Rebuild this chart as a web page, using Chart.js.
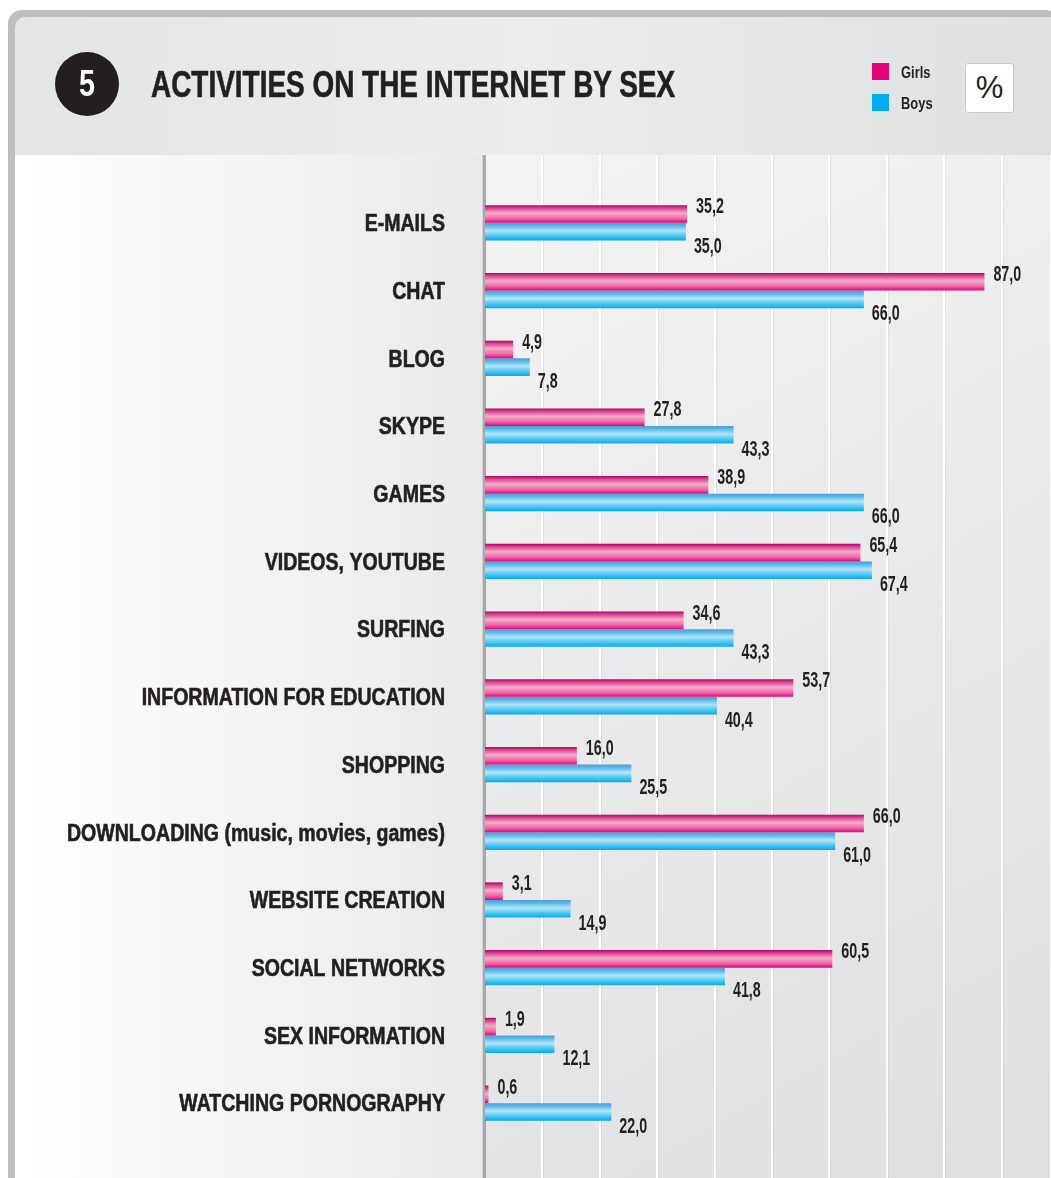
<!DOCTYPE html>
<html>
<head>
<meta charset="utf-8">
<script src="https://cdn.jsdelivr.net/npm/chart.js@4.4.1/dist/chart.umd.min.js"></script>
<style>
  html, body { margin: 0; padding: 0; background: #fff; overflow: hidden; }
  #wrap { position: relative; width: 1051px; height: 1178px; }
  #chart { position: absolute; left: 0; top: 0; }
  .txt { position: absolute; font-family: "Liberation Sans", Arial, sans-serif; color: #231f20; white-space: nowrap; transform-origin: left center; }
  #num { position: absolute; left: 55px; top: 52px; width: 64px; height: 64px; border-radius: 50%; background: #231f20; color: #fff;
         font: bold 36px "Liberation Sans", Arial, sans-serif; text-align: center; line-height: 64px; }
  #num span { display: inline-block; transform: scaleX(0.8); }
  #title { left: 151px; top: 64px; font-weight: bold; font-size: 36px; line-height: 42px; transform: scaleX(0.776); -webkit-text-stroke: 0.6px #231f20; }
  .sw { position: absolute; width: 17px; height: 17px; }
  .lg { font-weight: bold; font-size: 17px; line-height: 20px; transform: scaleX(0.76); }
  #pct { position: absolute; left: 965px; top: 63px; width: 47px; height: 48px; background: #fff; border: 1px solid #c9cacc; border-radius: 3px;
         font: 31px "Liberation Sans", Arial, sans-serif; color: #231f20; text-align: center; line-height: 48px; }
</style>
</head>
<body>
<div id="wrap">
  <canvas id="chart" width="1051" height="1178"></canvas>
  <div id="num"><span>5</span></div>
  <div id="title" class="txt">ACTIVITIES ON THE INTERNET BY SEX</div>
  <div class="sw" style="left:872px;top:63px;background:#e6007e"></div>
  <div class="txt lg" style="left:901px;top:63px">Girls</div>
  <div class="sw" style="left:872px;top:94px;background:#00aeef"></div>
  <div class="txt lg" style="left:901px;top:94px">Boys</div>
  <div id="pct">%</div>
</div>
<script>
// data
var activities = [
  'E-MAILS', 'CHAT', 'BLOG', 'SKYPE', 'GAMES', 'VIDEOS, YOUTUBE', 'SURFING',
  'INFORMATION FOR EDUCATION', 'SHOPPING', 'DOWNLOADING (music, movies, games)',
  'WEBSITE CREATION', 'SOCIAL NETWORKS', 'SEX INFORMATION', 'WATCHING PORNOGRAPHY'
];
var girls = [35.2, 87.0, 4.9, 27.8, 38.9, 65.4, 34.6, 53.7, 16.0, 66.0, 3.1, 60.5, 1.9, 0.6];
var boys  = [35.0, 66.0, 7.8, 43.3, 66.0, 67.4, 43.3, 40.4, 25.5, 61.0, 14.9, 41.8, 12.1, 22.0];

var CAT_PCT = 0.52;
var LABEL_FONT = 'bold 23px "Liberation Sans", Arial, sans-serif';
var VALUE_FONT = 'bold 22px "Liberation Sans", Arial, sans-serif';

function fmt(v) { return v.toFixed(1).replace('.', ','); }

// vertical stripe gradient for each bar, based on y scale pixel
function barFill(isGirl) {
  return function(ctx) {
    var chart = ctx.chart;
    var ys = chart.scales.y;
    var flat = isGirl ? '#e6007e' : '#00aeef';
    if (!ys || ctx.dataIndex === undefined || !(ys.height > 0)) return flat;
    var c = ys.getPixelForValue(ctx.dataIndex);
    if (!isFinite(c)) return flat;
    var band = ys.height / activities.length * CAT_PCT / 2;
    var top = isGirl ? c - band : c;
    var g = chart.ctx.createLinearGradient(0, top, 0, top + band);
    if (isGirl) {
      g.addColorStop(0, '#b0006a');
      g.addColorStop(0.15, '#d63f8c');
      g.addColorStop(0.45, '#f6abcc');
      g.addColorStop(0.75, '#ee6aa6');
      g.addColorStop(1, '#e4007c');
    } else {
      g.addColorStop(0, '#5a98d6');
      g.addColorStop(0.15, '#52b5e6');
      g.addColorStop(0.45, '#b0e6f8');
      g.addColorStop(0.75, '#4cc4f0');
      g.addColorStop(1, '#00adea');
    }
    return g;
  };
}

function condText(c, text, x, y, align, sx, stroke) {
  c.save();
  c.translate(x, y);
  c.scale(sx, 1);
  c.textAlign = align;
  c.fillText(text, 0, 0);
  if (stroke) c.strokeText(text, 0, 0);
  c.restore();
}

var backdrop = {
  id: 'backdrop',
  beforeDraw: function(chart) {
    var c = chart.ctx, xs = chart.scales.x;
    var W = chart.width, H = chart.height;
    var axisX = xs.getPixelForValue(0);
    c.save();
    // outer frame
    c.fillStyle = '#bdbec0';
    c.beginPath();
    c.roundRect(8, 10, W, H + 20, 14);
    c.fill();
    // header
    var hg = c.createLinearGradient(15, 0, W, 0);
    hg.addColorStop(0, '#e4e5e6');
    hg.addColorStop(0.5, '#ebeced');
    hg.addColorStop(1, '#dfe0e2');
    c.fillStyle = hg;
    c.beginPath();
    c.roundRect(15, 17, W, H, 10);
    c.fill();
    // label panel
    var lg = c.createLinearGradient(15, 0, axisX, 0);
    lg.addColorStop(0, '#ffffff');
    lg.addColorStop(1, '#e9e9ea');
    c.fillStyle = lg;
    c.fillRect(15, 155, axisX - 15, H - 155);
    // plot panel
    var pg = c.createLinearGradient(axisX, 155, W, H);
    pg.addColorStop(0, '#f3f3f3');
    pg.addColorStop(1, '#dedfe1');
    c.fillStyle = pg;
    c.fillRect(axisX, 155, W - axisX, H - 155);
    // grid lines from the x scale ticks
    xs.ticks.forEach(function(t) {
      if (t.value === 0) return;
      var px = Math.round(xs.getPixelForValue(t.value));
      c.fillStyle = 'rgba(0,0,0,0.05)';
      c.fillRect(px + 1, 155, 1, H - 155);
      c.fillStyle = '#ffffff';
      c.fillRect(px - 1, 155, 2, H - 155);
    });
    // axis line
    c.fillStyle = '#a7a8aa';
    c.fillRect(axisX - 2, 155, 3, H - 155);
    c.fillStyle = '#d0d1d2';
    c.fillRect(axisX - 3, 155, 1, H - 155);
    c.restore();
  },
  afterDatasetsDraw: function(chart) {
    var c = chart.ctx, ys = chart.scales.y, xs = chart.scales.x;
    var band = ys.height / activities.length * CAT_PCT / 2;
    c.save();
    c.fillStyle = '#231f20';
    c.strokeStyle = '#231f20';
    c.lineWidth = 0.6;
    c.textBaseline = 'middle';
    c.font = LABEL_FONT;
    activities.forEach(function(name, i) {
      condText(c, name, 445, ys.getPixelForValue(i) + 2, 'right', 0.85, true);
    });
    c.font = VALUE_FONT;
    activities.forEach(function(name, i) {
      var cy = ys.getPixelForValue(i);
      condText(c, fmt(girls[i]), xs.getPixelForValue(girls[i]) + 9, cy - band + 2, 'left', 0.65);
      condText(c, fmt(boys[i]), xs.getPixelForValue(boys[i]) + 8, cy + band + 6, 'left', 0.65);
    });
    c.restore();
  }
};

new Chart(document.getElementById('chart'), {
  type: 'bar',
  data: {
    labels: activities,
    datasets: [
      { label: 'Girls', data: girls, backgroundColor: barFill(true), borderWidth: 0 },
      { label: 'Boys', data: boys, backgroundColor: barFill(false), borderWidth: 0 }
    ]
  },
  options: {
    indexAxis: 'y',
    responsive: false,
    animation: false,
    layout: { padding: { left: 485, top: 189, bottom: 41, right: 0 } },
    categoryPercentage: CAT_PCT,
    barPercentage: 1.0,
    plugins: { legend: { display: false }, tooltip: { enabled: false } },
    scales: {
      x: { display: false, min: 0, max: 98.6, ticks: { stepSize: 10 } },
      y: { display: false }
    }
  },
  plugins: [backdrop]
});
</script>
</body>
</html>
